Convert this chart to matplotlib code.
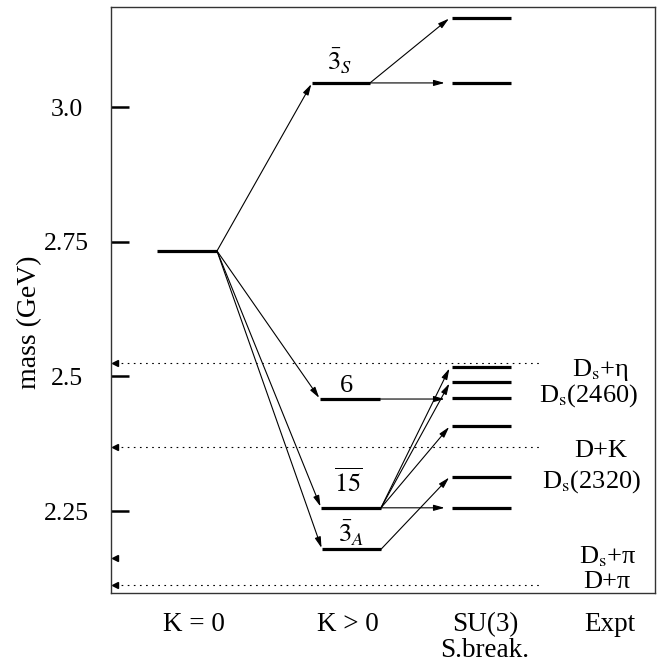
import matplotlib.pyplot as plt
from matplotlib.transforms import blended_transform_factory

plt.rcParams['font.family'] = ['Liberation Serif', 'DejaVu Serif']
plt.rcParams['mathtext.fontset'] = 'stix'

# level masses (GeV)
k0_mass = 2.733
kpos_names = [r'$\bar{3}_S$', '6', r'$\overline{15}$', r'$\bar{3}_A$']
kpos_mass = [3.045, 2.458, 2.256, 2.179]
su3_mass = [3.166, 3.045, 2.517, 2.489, 2.459, 2.408, 2.314, 2.256]
# which K>0 level feeds which SU(3)-broken level
su3_links = [(0, 0), (0, 1), (1, 4), (2, 2), (2, 3), (2, 5), (2, 7), (3, 6)]

# thresholds (dotted lines / markers on the left axis)
threshold_mass = [2.525, 2.369, 2.163, 2.113]
threshold_dotted = [True, True, False, True]

expt_labels = ['D$_\\mathrm{s}$+η', 'D$_\\mathrm{s}$(2460)', 'D+K',
               'D$_\\mathrm{s}$(2320)', 'D$_\\mathrm{s}$+π', 'D+π']
expt_label_mass = [2.500, 2.453, 2.350, 2.293, 2.153, 2.107]

yticks = [2.25, 2.5, 2.75, 3.0]
ytick_labels = ['2.25', '2.5', '2.75', '3.0']

col_labels = ['K = 0', 'K > 0', 'SU(3)\nS.break.', 'Expt']

# layout (horizontal positions in axis units, 0..544)
k0_x = (46, 106)
kpos_x = [(201, 259), (209, 269), (210, 270), (211, 270)]
su3_x = (341, 400)
kpos_label_x = [229, 235, 237, 240]
kpos_label_m = [3.068, 2.471, 2.285, 2.191]
expt_label_x = [490, 478, 490, 481, 497, 496]
col_label_x = [83, 237, 374, 499]

fig = plt.figure(figsize=(6.68, 6.66), dpi=100)
ax = fig.add_axes([111 / 668, 1 - 593 / 666, 544 / 668, 586 / 666])
ax.set_xlim(0, 544)
ax.set_ylim(2.0978, 3.186)

lev_lw = 2.3
arrow = dict(arrowstyle='-|>,head_length=0.65,head_width=0.18', lw=0.8,
             color='black', mutation_scale=10, shrinkA=0, shrinkB=1)

# levels
ax.plot(k0_x, [k0_mass, k0_mass], color='black', lw=lev_lw, solid_capstyle='butt')
for (x0, x1), m in zip(kpos_x, kpos_mass):
    ax.plot([x0, x1], [m, m], color='black', lw=lev_lw, solid_capstyle='butt')
for m in su3_mass:
    ax.plot(su3_x, [m, m], color='black', lw=lev_lw, solid_capstyle='butt')

# K=0 -> K>0
for (x0, x1), m in zip(kpos_x, kpos_mass):
    ax.annotate('', xy=(x0, m), xytext=(k0_x[1], k0_mass), arrowprops=arrow)

# K>0 -> SU(3) broken
for i, j in su3_links:
    flat = abs(kpos_mass[i] - su3_mass[j]) < 0.005
    gap = 6 if flat else 2
    y_end = kpos_mass[i] if flat else su3_mass[j]
    ax.annotate('', xy=(su3_x[0] - gap, y_end),
                xytext=(kpos_x[i][1], kpos_mass[i]), arrowprops=arrow)

# level labels
for name, x, m in zip(kpos_names, kpos_label_x, kpos_label_m):
    ax.text(x, m, name, ha='center', va='baseline', fontsize=19)

# thresholds
for m, dotted in zip(threshold_mass, threshold_dotted):
    if dotted:
        ax.plot([4, 430], [m, m], color='black', lw=0.8, linestyle=(0, (1.5, 4)))
    ax.plot(4, m, marker='<', color='black', markersize=4, clip_on=False)

for lab, x, m in zip(expt_labels, expt_label_x, expt_label_mass):
    ax.text(x, m, lab, ha='center', va='baseline', fontsize=19)

# column labels under the axes
trans = blended_transform_factory(ax.transData, ax.transAxes)
for lab, x in zip(col_labels, col_label_x):
    ax.text(x, -0.032, lab, transform=trans, ha='center', va='top',
            fontsize=19.5, linespacing=1.05)

ax.set_yticks(yticks, ytick_labels)
ax.set_xticks([])
ax.tick_params(axis='y', direction='in', length=13, width=1.8, pad=32, labelsize=18.5)
for t in ax.get_yticklabels():
    t.set_ha('center')
for s in ax.spines.values():
    s.set_linewidth(1.0)
    s.set_color('#333333')

ax.text(-0.149, 0.4625, 'mass (GeV)', transform=ax.transAxes, rotation=90,
        ha='center', va='center', fontsize=20)

fig.savefig('out.png', dpi=100)
